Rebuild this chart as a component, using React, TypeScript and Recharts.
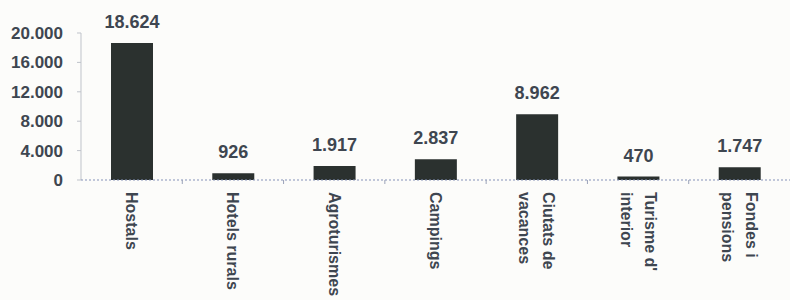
import { BarChart, Bar, XAxis, YAxis, LabelList } from 'recharts';

const categories = [
  ['Hostals'],
  ['Hotels rurals'],
  ['Agroturismes'],
  ['Campings'],
  ['Ciutats de', 'vacances'],
  ["Turisme d'", 'interior'],
  ['Fondes i', 'pensions'],
];
const places = [18624, 926, 1917, 2837, 8962, 470, 1747];
const yTicks = [0, 4000, 8000, 12000, 16000, 20000];

const data = categories.map((lines, i) => ({ name: lines.join(' '), lines, value: places[i] }));

const WIDTH = 790;
const HEIGHT = 300;
const AXIS_LEFT = 81;
const BAND = (WIDTH - AXIS_LEFT) / categories.length;
const TEXT = '#3e4650';
const FONT = '"Liberation Sans", Arial, sans-serif';

const fmt = (v: number) => v.toLocaleString('de-DE');

function CategoryTick(props: any) {
  const { x, y, index } = props;
  const lines: string[] = data[index]?.lines ?? [];
  const n = lines.length;
  return (
    <g>
      {index < categories.length - 1 && (
        <line x1={x + BAND / 2} x2={x + BAND / 2} y1={y - 8} y2={y - 4} stroke="#9aa2b8" />
      )}
      <g transform={`translate(${x},${y + 4}) rotate(90)`}>
        {lines.map((l, i) => (
          <text
            key={i}
            x={0}
            y={(i - (n - 1) / 2) * 24}
            textAnchor="start"
            dominantBaseline="central"
            fill={TEXT}
            fontSize={16}
            fontWeight="bold"
            fontFamily={FONT}
          >
            {l}
          </text>
        ))}
      </g>
    </g>
  );
}

export default function App() {
  return (
    <div style={{ position: 'absolute', left: 0, top: 0, width: WIDTH, height: HEIGHT, background: '#fcfcfa', overflow: 'hidden' }}>
      <BarChart width={WIDTH} height={HEIGHT} data={data} margin={{ top: 33, right: 0, bottom: 0, left: 0 }}>
        <YAxis
          width={AXIS_LEFT}
          domain={[0, 20000]}
          ticks={yTicks}
          interval={0}
          tickFormatter={fmt}
          axisLine={{ stroke: '#bfc3ca' }}
          tickLine={{ stroke: '#bfc3ca' }}
          tickSize={4}
          tickMargin={14}
          tick={{ fill: TEXT, fontSize: 17, fontWeight: 'bold', fontFamily: FONT }}
        />
        <XAxis
          dataKey="name"
          height={120}
          interval={0}
          axisLine={{ stroke: '#8592b8', strokeDasharray: '2 2' }}
          tickLine={false}
          tick={<CategoryTick />}
        />
        <Bar dataKey="value" fill="#2b312f" barSize={42} isAnimationActive={false}>
          <LabelList
            dataKey="value"
            position="top"
            offset={15}
            formatter={(v: any) => fmt(Number(v))}
            fill={TEXT}
            fontSize={18}
            fontWeight="bold"
            fontFamily={FONT}
          />
        </Bar>
      </BarChart>
    </div>
  );
}
